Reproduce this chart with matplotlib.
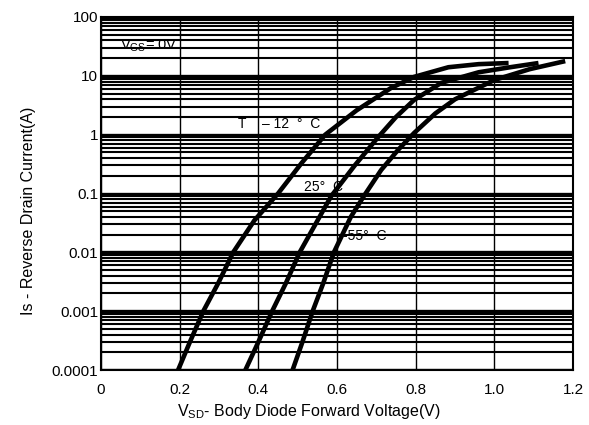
import matplotlib
matplotlib.use("Agg")
import matplotlib.pyplot as plt
import numpy as np
from matplotlib.ticker import LogLocator, NullFormatter

plt.rcParams["font.family"] = ["Liberation Sans", "DejaVu Sans"]

# body diode forward characteristics
v_125 = [0.196, 0.226, 0.26, 0.298, 0.336, 0.39, 0.45, 0.51, 0.57, 0.65,
         0.737, 0.796, 0.883, 0.96, 1.036]
i_125 = [1e-4, 3e-4, 1e-3, 3e-3, 1e-2, 3.5e-2, 0.1, 0.33, 1, 2.6,
         6.2, 9.6, 14, 15.8, 16.5]

v_25 = [0.367, 0.40, 0.435, 0.47, 0.505, 0.545, 0.585, 0.645, 0.704, 0.75,
        0.796, 0.865, 0.96, 1.04, 1.112]
i_25 = [1e-4, 3e-4, 1e-3, 3e-3, 0.01, 0.03, 0.09, 0.3, 0.9, 2,
        3.9, 7.6, 11.5, 14, 16.5]

v_m55 = [0.487, 0.512, 0.538, 0.565, 0.592, 0.635, 0.668, 0.712, 0.755, 0.796,
         0.85, 0.9, 1.0, 1.09, 1.18]
i_m55 = [1e-4, 3e-4, 1e-3, 3e-3, 0.01, 0.04, 0.09, 0.25, 0.55, 1.07,
         2.3, 4, 8.5, 13, 17.8]

x_ticks = [0, 0.2, 0.4, 0.6, 0.8, 1.0, 1.2]
x_labels = ["0", "0.2", "0.4", "0.6", "0.8", "1.0", "1.2"]
y_ticks = [1e-4, 1e-3, 1e-2, 1e-1, 1, 10, 100]
y_labels = ["0.0001", "0.001", "0.01", "0.1", "1", "10", "100"]

fig = plt.figure(figsize=(5.89, 4.25), dpi=100)
ax = fig.add_axes([0.1715, 0.1294, 0.8015, 0.8306])

ax.set_yscale("log")
ax.set_xlim(0, 1.2)
ax.set_ylim(1e-4, 100)

ax.set_xticks(x_ticks)
ax.set_xticklabels(x_labels)
ax.set_yticks(y_ticks)
ax.set_yticklabels(y_labels)
ax.yaxis.set_minor_locator(LogLocator(base=10, subs=np.arange(2, 10)))
ax.yaxis.set_minor_formatter(NullFormatter())
ax.tick_params(which="both", length=0, labelsize=11)
ax.tick_params(axis="y", pad=2)
ax.tick_params(axis="x", pad=9)

# heavy datasheet style grid
ax.grid(True, which="major", axis="y", color="black", linewidth=2.4)
ax.grid(True, which="minor", axis="y", color="black", linewidth=1.5)
ax.grid(True, which="major", axis="x", color="black", linewidth=1.0)
ax.set_axisbelow(True)
for s in ax.spines.values():
    s.set_linewidth(1.5)

for v, i in [(v_125, i_125), (v_25, i_25), (v_m55, i_m55)]:
    ax.plot(v, i, color="black", linewidth=3.3,
            solid_capstyle="butt", solid_joinstyle="round", zorder=3)

ax.text(0.048, 28, r"V$_{\mathregular{GS}}$= 0V", fontsize=10.5, zorder=4)
ax.text(0.347, 1.3, "T", fontsize=10, zorder=4)
ax.text(0.41, 1.3, "– 12  °  C", fontsize=10, zorder=4)
ax.text(0.515, 0.11, "25°  C", fontsize=10, zorder=4)
ax.text(0.615, 0.016, "-55°  C", fontsize=10, zorder=4)

ax.set_xlabel(r"V$_{\mathregular{SD}}$- Body Diode Forward Voltage(V)", fontsize=11.5,
              labelpad=4, x=0.44)
ax.set_ylabel("Is - Reverse Drain Current(A)", fontsize=11.5, y=0.45)
ax.yaxis.set_label_coords(-0.137, 0.45)

fig.savefig("out.png", dpi=100)
